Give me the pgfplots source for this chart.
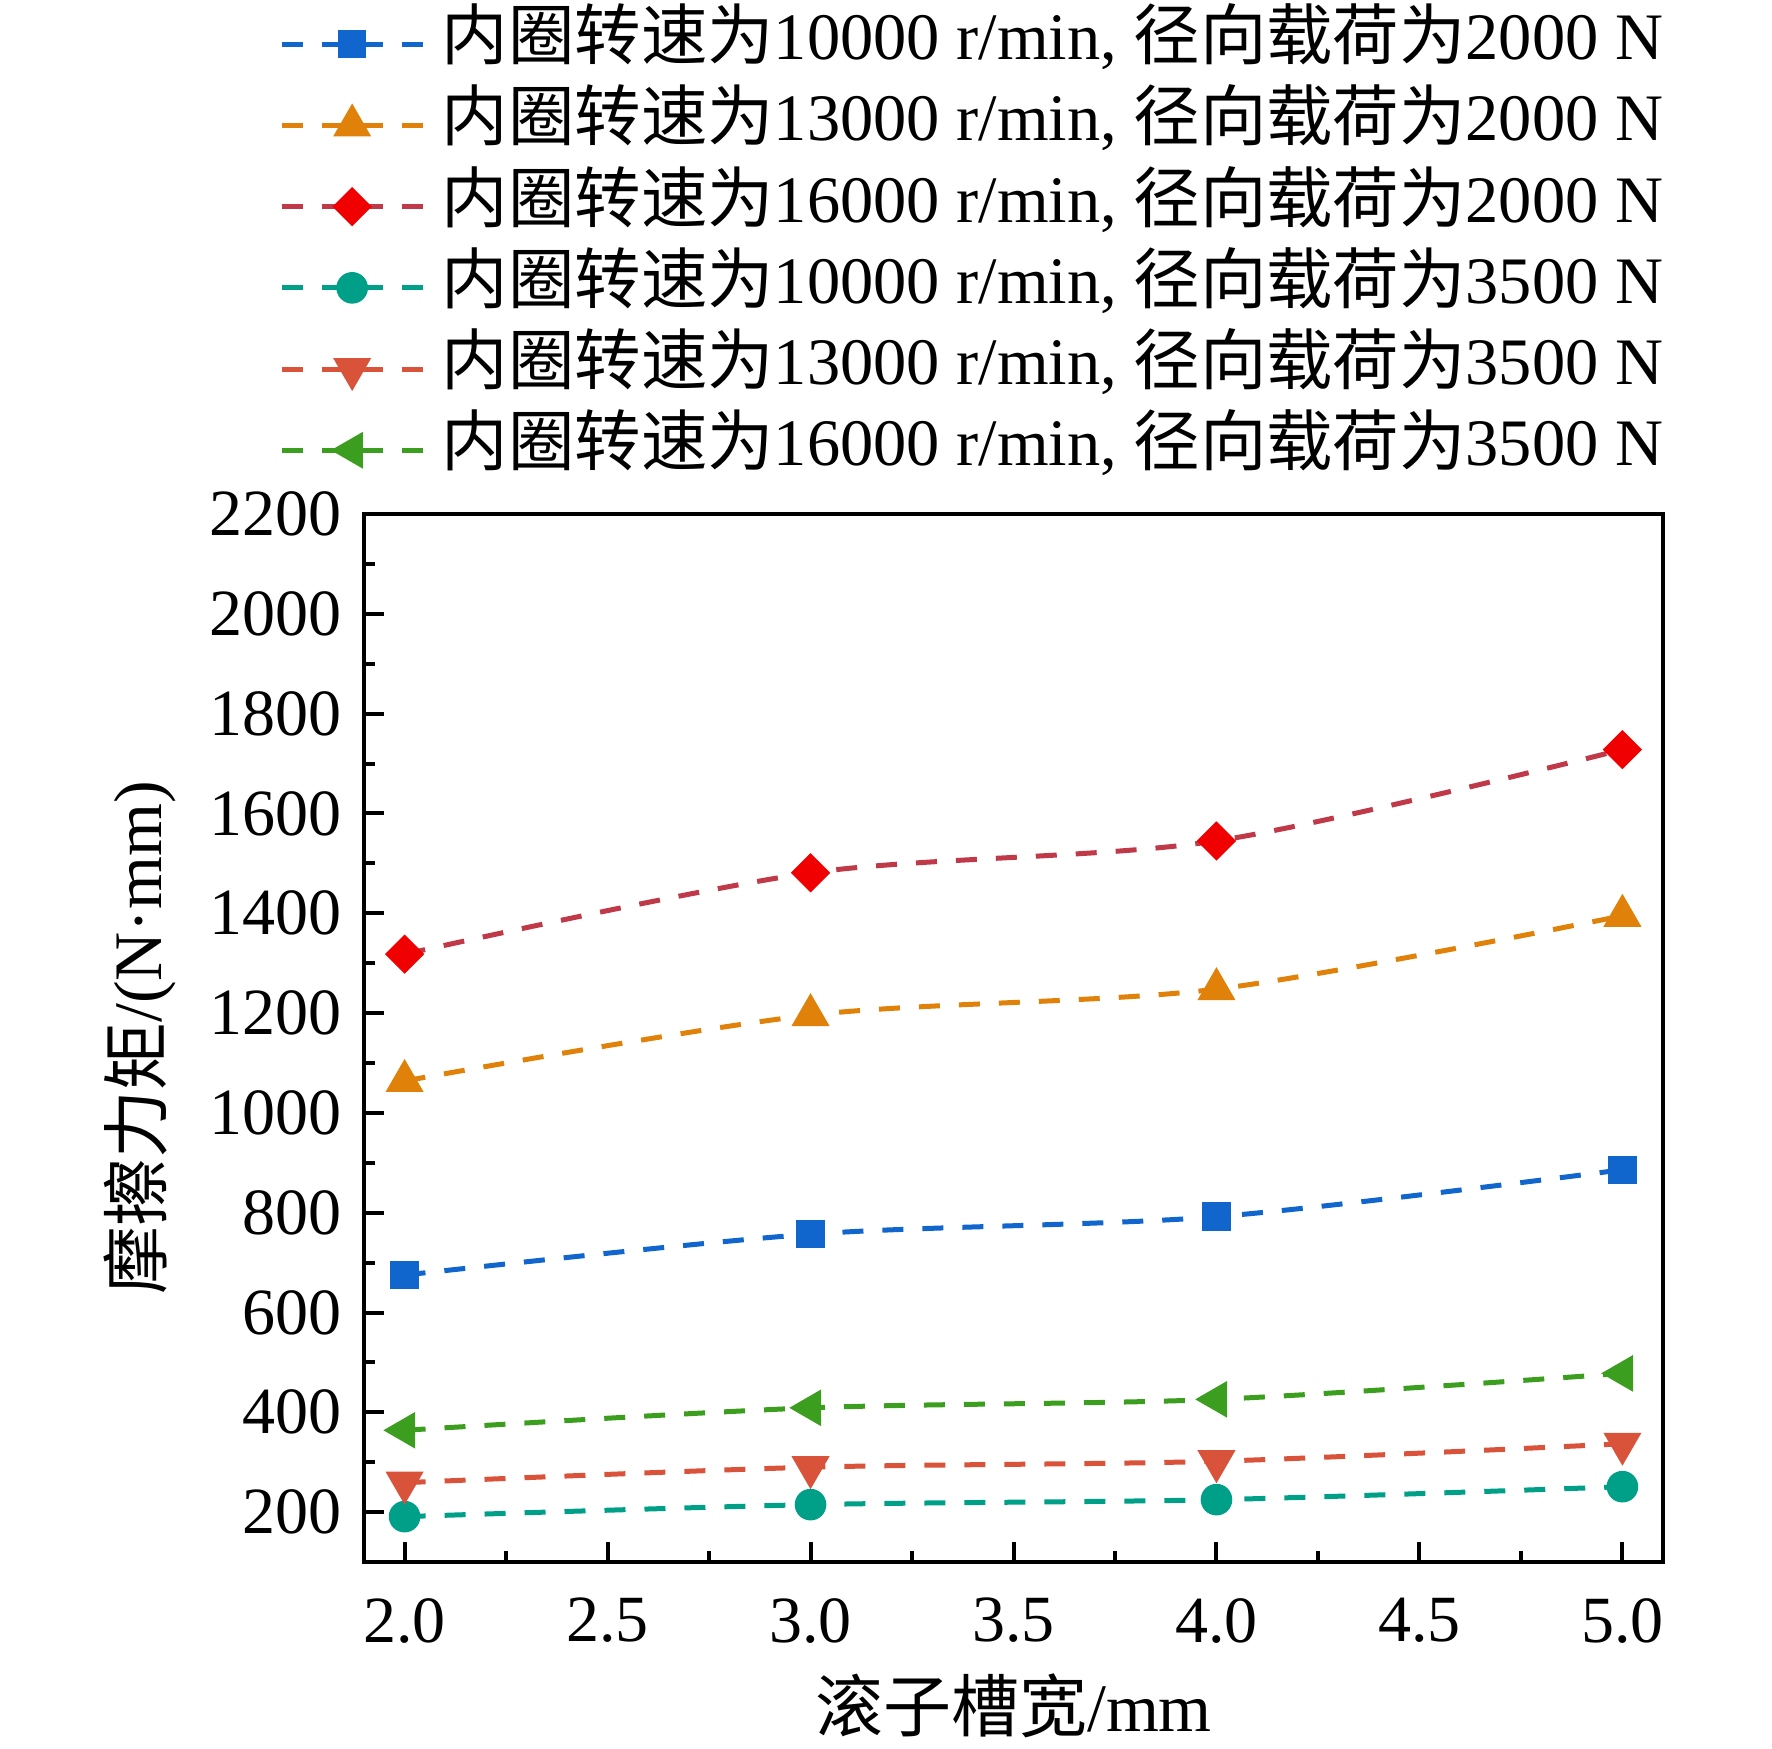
\documentclass[border=0pt]{standalone}
\usepackage{fontspec}
\setmainfont{Liberation Serif}
\newfontfamily\cjk{Noto Sans CJK SC}
\usepackage{pgfplots}
\pgfplotsset{compat=1.18}
\definecolor{cblue}{RGB}{16,102,204}
\definecolor{corange}{RGB}{224,130,10}
\definecolor{credl}{RGB}{192,57,72}
\definecolor{credm}{RGB}{240,0,0}
\definecolor{cteal}{RGB}{0,160,136}
\definecolor{cdown}{RGB}{217,83,58}
\definecolor{cgreen}{RGB}{60,158,30}
\begin{document}
\begin{tikzpicture}
\begin{axis}[
  at={(0,0)}, anchor=south west,
  scale only axis, width=324.75pt, height=262pt,
  xmin=1.9, xmax=5.1, ymin=100, ymax=2200,
  xtick={2,2.5,...,5}, ytick={200,400,...,2200},
  minor x tick num=1, minor y tick num=1,
  xtick pos=bottom, ytick pos=left, tick align=inside,
  major tick length=5pt, minor tick length=2.7pt,
  axis line style={line width=1pt}, every tick/.style={black, line width=1pt},
  /pgf/number format/assume math mode=true,
  /pgf/number format/1000 sep={},
  xticklabel={\pgfmathprintnumber[fixed,fixed zerofill,precision=1]{\tick}},
  ticklabel style={font=\fontsize{16.5}{18}\selectfont},
  xticklabel style={yshift=-5.5pt},
  yticklabel style={xshift=-2.2pt},
  xlabel={{\cjk 滚子槽宽}/mm},
  ylabel={{\cjk 摩擦力矩}/(N·mm)},
  label style={font=\fontsize{17}{19}\selectfont},
  xlabel style={at={(axis description cs:0.5,-0.1374)}, anchor=center},
  ylabel style={at={(axis description cs:-0.1724,0.5)}, anchor=center},
  legend cell align=left,
  legend style={at={(axis description cs:1,1.487)}, anchor=north east, draw=none, fill=none,
    inner sep=0pt, outer sep=0pt, row sep=0pt, column sep=4.2pt,
    font=\fontsize{16.6}{19}\selectfont,
    nodes={inner sep=0pt, text height=14pt, text depth=6.3pt}},
  legend image code/.code={
    \draw[#1, mark=none, dash pattern=on 5.25pt off 4.75pt on 15.25pt off 4.75pt on 5.25pt] (0pt,0pt) -- (35.25pt,0pt);
    \path[#1] plot coordinates {(17.625pt,0pt)};
  },
  every axis plot/.append style={line width=1.25pt, dash pattern=on 5.25pt off 4.75pt, smooth},
]
\addplot[cblue, mark=square*, mark size=3.4pt, mark options={solid, fill=cblue, draw=cblue, line width=0.3pt}]
  coordinates {(2,675) (3,757) (4,792) (5,886)};
\addlegendentry{{\cjk 内圈转速为}10000 r/min, {\cjk 径向载荷为}2000 N}
\addplot[corange, mark=triangle*, mark size=5.2pt, mark options={solid, fill=corange, draw=corange, line width=0.3pt}]
  coordinates {(2,1064) (3,1196) (4,1248) (5,1395)};
\addlegendentry{{\cjk 内圈转速为}13000 r/min, {\cjk 径向载荷为}2000 N}
\addplot[credl, mark=diamond*, mark size=4.7pt, mark options={solid, xscale=1.333, fill=credm, draw=credm, line width=0.3pt}]
  coordinates {(2,1318) (3,1481) (4,1545) (5,1728)};
\addlegendentry{{\cjk 内圈转速为}16000 r/min, {\cjk 径向载荷为}2000 N}
\addplot[cteal, mark=*, mark size=3.8pt, mark options={solid, fill=cteal, draw=cteal, line width=0.3pt}]
  coordinates {(2,191) (3,215) (4,225) (5,251)};
\addlegendentry{{\cjk 内圈转速为}10000 r/min, {\cjk 径向载荷为}3500 N}
\addplot[cdown, mark=triangle*, mark size=5.2pt, mark options={solid, rotate=180, fill=cdown, draw=cdown, line width=0.3pt}]
  coordinates {(2,259) (3,290) (4,302) (5,337)};
\addlegendentry{{\cjk 内圈转速为}13000 r/min, {\cjk 径向载荷为}3500 N}
\addplot[cgreen, mark=triangle*, mark size=5pt, mark options={solid, rotate=90, fill=cgreen, draw=cgreen, line width=0.3pt}]
  coordinates {(2,364) (3,409) (4,426) (5,478)};
\addlegendentry{{\cjk 内圈转速为}16000 r/min, {\cjk 径向载荷为}3500 N}
\end{axis}
\pgfresetboundingbox
\path[use as bounding box] (-91pt,-46.5pt) rectangle (352pt,390.5pt);
\end{tikzpicture}
\end{document}
